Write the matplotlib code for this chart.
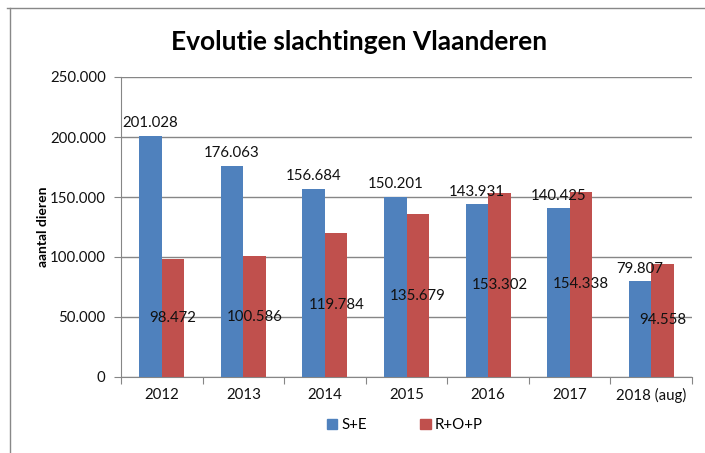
import matplotlib
matplotlib.use("Agg")
import matplotlib.pyplot as plt
from matplotlib.ticker import FuncFormatter, FixedLocator
from matplotlib.lines import Line2D
from matplotlib.patches import Patch
import numpy as np

plt.rcParams['font.family'] = ['Lato', 'DejaVu Sans']

categories = ["2012", "2013", "2014", "2015", "2016", "2017", "2018 (aug)"]
se_values = [201028, 176063, 156684, 150201, 143931, 140425, 79807]
rop_values = [98472, 100586, 119784, 135679, 153302, 154338, 94558]
series_names = ["S+E", "R+O+P"]
title = "Evolutie slachtingen Vlaanderen"
ylabel = "aantal dieren"

blue = "#4F81BD"
red = "#C0504D"
grid_c = "#868686"

W, H = 705, 453
fig = plt.figure(figsize=(W / 100, H / 100), dpi=100)
ax = fig.add_axes([121 / W, 1 - 377 / H, (692 - 121) / W, 300 / H])

x = np.arange(len(categories))
bw = 0.276
ax.bar(x - bw / 2, se_values, bw, color=blue, zorder=3)
ax.bar(x + bw / 2, rop_values, bw, color=red, zorder=3)

fmt = lambda v: f"{v:,.0f}".replace(",", ".")

for xi, v in zip(x, se_values):
    ax.annotate(fmt(v), (xi - bw / 2, v), xytext=(0, 4), textcoords="offset points",
                ha="center", va="bottom", fontsize=10.8, color="#111111", zorder=5)
for xi, v in zip(x, rop_values):
    ax.text(xi + bw / 2, v / 2, fmt(v), ha="center", va="center",
            fontsize=10.8, color="#111111", zorder=5)

ax.set_xlim(-0.5, len(categories) - 0.5)
ax.set_ylim(0, 250000)
ax.set_yticks(np.arange(0, 250001, 50000))
ax.yaxis.set_major_formatter(FuncFormatter(lambda v, p: fmt(v)))
ax.yaxis.grid(True, color=grid_c, linewidth=1, zorder=0)

ax.xaxis.set_major_locator(FixedLocator(np.arange(-0.5, len(categories), 1.0)))
ax.xaxis.set_minor_locator(FixedLocator(x))
ax.set_xticklabels([], minor=False)
ax.set_xticklabels(categories, minor=True)
ax.tick_params(axis="x", which="major", length=5, color=grid_c, direction="out")
ax.tick_params(axis="x", which="minor", length=0, pad=8, labelsize=10.8, labelcolor="#111111")
ax.tick_params(axis="y", length=5, color=grid_c, labelsize=10.8, labelcolor="#111111", pad=6)

for s in ["top", "right"]:
    ax.spines[s].set_visible(False)
for s in ["left", "bottom"]:
    ax.spines[s].set_color(grid_c)

ax.set_ylabel(ylabel, fontsize=10, fontweight="bold")
ax.yaxis.set_label_coords((49 - 121) / (692 - 121), 0.5)

fig.text(359 / W, 1 - 42 / H, title, ha="center", va="center", fontsize=19, fontweight="bold")

handles = [Patch(color=blue), Patch(color=red)]
fig.legend(handles, series_names, loc="center", bbox_to_anchor=(405 / W, 1 - 425 / H),
           ncol=2, frameon=False, fontsize=10.8, handlelength=0.7, handleheight=0.7,
           handletextpad=0.3, columnspacing=3.5)

fig.add_artist(Line2D([7 / W, 1], [1 - 8 / H, 1 - 8 / H], transform=fig.transFigure, color="#888888", lw=1))
fig.add_artist(Line2D([10 / W, 10 / W], [1 - 8 / H, 0], transform=fig.transFigure, color="#888888", lw=1))

fig.savefig("out.png", dpi=100)
